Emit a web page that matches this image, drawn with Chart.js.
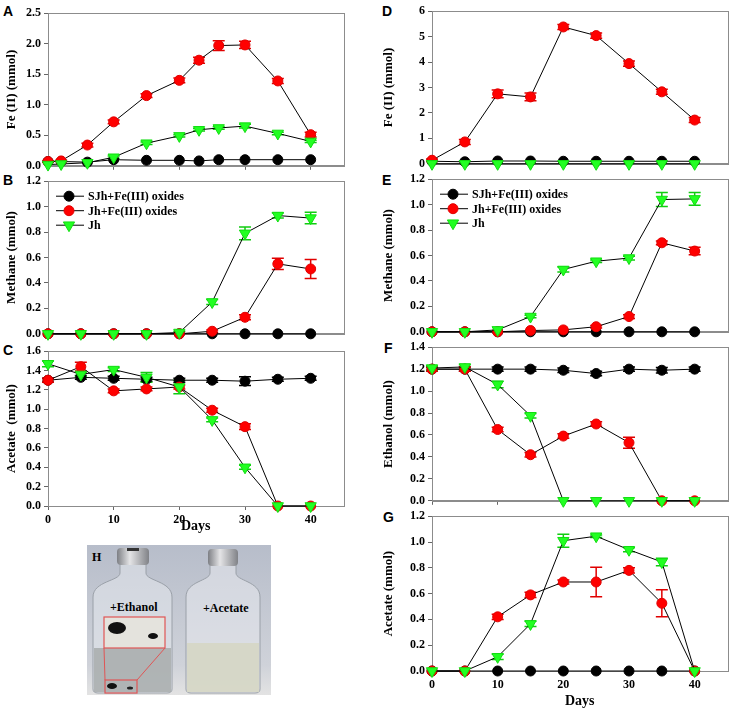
<!DOCTYPE html>
<html>
<head>
<meta charset="utf-8">
<script src="https://cdn.jsdelivr.net/npm/chart.js@4.4.1/dist/chart.umd.min.js"></script>
<style>
  body { margin: 0; background: #fff; width: 737px; height: 712px; position: relative; overflow: hidden; }
  .tag { position: absolute; font: bold 14px "Liberation Sans", Arial, sans-serif; color: #000; }
  #photo { position: absolute; left: 87px; top: 545px; }
</style>
</head>
<body>

<div class="tag" style="left:3px;top:3px">A</div>
<div class="tag" style="left:3px;top:172px">B</div>
<div class="tag" style="left:3px;top:342px">C</div>
<div class="tag" style="left:382px;top:3px">D</div>
<div class="tag" style="left:382px;top:172px">E</div>
<div class="tag" style="left:384px;top:340px">F</div>
<div class="tag" style="left:383px;top:509px">G</div>

<!-- H: photo of the two bottles -->
<svg id="photo" width="184" height="150" viewBox="0 0 184 150" xmlns="http://www.w3.org/2000/svg">
  <defs>
    <linearGradient id="bg" x1="0" y1="0" x2="0" y2="1">
      <stop offset="0" stop-color="#b7bdca"/>
      <stop offset="0.8" stop-color="#cfd2d9"/>
      <stop offset="1" stop-color="#e3e3e3"/>
    </linearGradient>
    <linearGradient id="cap" x1="0" y1="0" x2="1" y2="0">
      <stop offset="0" stop-color="#7d7f84"/>
      <stop offset="0.4" stop-color="#e4e4e6"/>
      <stop offset="1" stop-color="#808287"/>
    </linearGradient>
  </defs>
  <rect x="0" y="0" width="184" height="150" fill="url(#bg)"/>
  <!-- left bottle -->
  <path d="M33,28 L33,18 L59,18 L59,28 C59,36 85,36 85,52 L85,144 Q85,148 80,148 L11,148 Q6,148 6,144 L6,52 C6,36 33,36 33,28 Z" fill="rgba(228,231,236,0.55)" stroke="#9aa0a8"/>
  <rect x="7" y="103" width="77" height="44" fill="#a7acab" opacity="0.85"/>
  <rect x="30" y="3" width="32" height="17" rx="4" fill="url(#cap)"/>
  <rect x="40" y="3" width="12" height="3" fill="#333"/>
  <!-- right bottle -->
  <path d="M123,28 L123,18 L149,18 L149,28 C149,36 173,36 173,52 L173,144 Q173,148 168,148 L104,148 Q99,148 99,144 L99,52 C99,36 123,36 123,28 Z" fill="rgba(232,234,238,0.55)" stroke="#9aa0a8"/>
  <rect x="100" y="98" width="72" height="49" fill="#d5d6c4" opacity="0.9"/>
  <rect x="121" y="4" width="30" height="17" rx="4" fill="url(#cap)"/>
  <!-- inset -->
  <line x1="17" y1="103" x2="18" y2="135" stroke="#e05555" stroke-width="1"/>
  <line x1="78" y1="103" x2="50" y2="135" stroke="#e05555" stroke-width="1"/>
  <rect x="17" y="72" width="61" height="31" fill="#e4e3dd" stroke="#e05555" stroke-width="1.2"/>
  <ellipse cx="30" cy="83" rx="9" ry="6" fill="#111"/>
  <ellipse cx="66" cy="91" rx="5" ry="3" fill="#111"/>
  <rect x="18" y="135" width="32" height="13" fill="none" stroke="#e05555" stroke-width="1.2"/>
  <ellipse cx="25" cy="141" rx="5" ry="3" fill="#111"/>
  <ellipse cx="43" cy="143" rx="3" ry="1.5" fill="#222"/>
  <text x="5" y="16" font-family="Liberation Serif" font-weight="bold" font-size="12">H</text>
  <text x="23" y="66" font-family="Liberation Serif" font-weight="bold" font-size="12">+Ethanol</text>
  <text x="116" y="67" font-family="Liberation Serif" font-weight="bold" font-size="12">+Acetate</text>
</svg>

<script>
// sampling days
const daysA = [0, 2, 6, 10, 15, 20, 23, 26, 30, 35, 40];
const days = [0, 5, 10, 15, 20, 25, 30, 35, 40];
const dayTicks = [0, 10, 20, 30, 40];

// tick labels of the y axes
const ticksFeA = [0, 0.5, 1.0, 1.5, 2.0, 2.5];
const ticksFeD = [0, 1, 2, 3, 4, 5, 6];
const ticks12 = [0, 0.2, 0.4, 0.6, 0.8, 1.0, 1.2];
const ticks14 = [0, 0.2, 0.4, 0.6, 0.8, 1.0, 1.2, 1.4];
const ticks16 = [0, 0.2, 0.4, 0.6, 0.8, 1.0, 1.2, 1.4, 1.6];

const seriesNames = ['SJh+Fe(III) oxides', 'Jh+Fe(III) oxides', 'Jh'];

// A - Fe(II)
const feA_SJh = [0.07, 0.07, 0.06, 0.10, 0.09, 0.09, 0.08, 0.10, 0.10, 0.10, 0.10];
const feA_SJhErr = [0, 0, 0, 0, 0, 0, 0, 0, 0, 0, 0];
const feA_JhFe = [0.07, 0.08, 0.34, 0.72, 1.15, 1.40, 1.73, 1.97, 1.98, 1.39, 0.51];
const feA_JhFeErr = [0.01, 0.01, 0.03, 0.03, 0.03, 0.04, 0.05, 0.08, 0.06, 0.04, 0.04];
const feA_Jh = [0.02, 0.03, 0.05, 0.14, 0.37, 0.49, 0.59, 0.62, 0.65, 0.53, 0.40];
const feA_JhErr = [0, 0, 0, 0.02, 0.02, 0.02, 0.02, 0.02, 0.03, 0.02, 0.02];

// B - methane
const ch4B_SJh = [0, 0, 0, 0, 0, 0, 0, 0, 0];
const ch4B_SJhErr = [0, 0, 0, 0, 0, 0, 0, 0, 0];
const ch4B_JhFe = [0, 0, 0, 0, 0, 0.02, 0.13, 0.55, 0.51];
const ch4B_JhFeErr = [0, 0, 0, 0, 0, 0.01, 0.02, 0.045, 0.075];
const ch4B_Jh = [0, 0, 0, 0, 0.01, 0.25, 0.79, 0.93, 0.91];
const ch4B_JhErr = [0, 0, 0, 0, 0.01, 0.02, 0.05, 0.02, 0.045];

// C - acetate
const acC_SJh = [1.30, 1.33, 1.32, 1.31, 1.30, 1.30, 1.29, 1.31, 1.32];
const acC_SJhErr = [0.02, 0.02, 0.02, 0.02, 0.02, 0.02, 0.045, 0.02, 0.02];
const acC_JhFe = [1.30, 1.44, 1.19, 1.21, 1.23, 0.99, 0.82, 0, 0];
const acC_JhFeErr = [0.02, 0.045, 0.02, 0.02, 0.02, 0.02, 0.03, 0, 0];
const acC_Jh = [1.47, 1.36, 1.41, 1.33, 1.23, 0.89, 0.40, 0, 0];
const acC_JhErr = [0.03, 0.02, 0.02, 0.05, 0.07, 0.02, 0.02, 0, 0];

// D - Fe(II)
const feD_SJh = [0.10, 0.08, 0.11, 0.11, 0.10, 0.10, 0.10, 0.10, 0.10];
const feD_SJhErr = [0, 0, 0, 0, 0, 0, 0, 0, 0];
const feD_JhFe = [0.14, 0.86, 2.75, 2.63, 5.38, 5.04, 3.94, 2.83, 1.72];
const feD_JhFeErr = [0.05, 0.1, 0.15, 0.15, 0.1, 0.1, 0.1, 0.1, 0.1];
const feD_Jh = [0, 0, 0, 0, 0, 0, 0, 0, 0];
const feD_JhErr = [0, 0, 0, 0, 0, 0, 0, 0, 0];

// E - methane
const ch4E_SJh = [0, 0, 0, 0, 0, 0, 0, 0, 0];
const ch4E_SJhErr = [0, 0, 0, 0, 0, 0, 0, 0, 0];
const ch4E_JhFe = [0, 0, 0, 0.01, 0.015, 0.04, 0.12, 0.70, 0.635];
const ch4E_JhFeErr = [0, 0, 0, 0, 0, 0.01, 0.015, 0.015, 0.03];
const ch4E_Jh = [0, 0, 0.015, 0.12, 0.49, 0.555, 0.58, 1.04, 1.045];
const ch4E_JhErr = [0, 0, 0, 0.01, 0.02, 0.01, 0.015, 0.055, 0.05];

// F - ethanol
const etF_SJh = [1.20, 1.20, 1.20, 1.20, 1.19, 1.16, 1.20, 1.19, 1.20];
const etF_SJhErr = [0.02, 0.02, 0.02, 0.02, 0.02, 0.02, 0.02, 0.025, 0.02];
const etF_JhFe = [1.20, 1.20, 0.65, 0.42, 0.59, 0.70, 0.53, 0, 0];
const etF_JhFeErr = [0.02, 0.02, 0.02, 0.02, 0.02, 0.02, 0.05, 0, 0];
const etF_Jh = [1.21, 1.22, 1.06, 0.775, 0, 0, 0, 0, 0];
const etF_JhErr = [0.02, 0.02, 0.03, 0.02, 0, 0, 0, 0, 0];

// G - acetate
const acG_SJh = [0, 0, 0, 0, 0, 0, 0, 0, 0];
const acG_SJhErr = [0, 0, 0, 0, 0, 0, 0, 0, 0];
const acG_JhFe = [0, 0, 0.42, 0.59, 0.69, 0.69, 0.78, 0.525, 0];
const acG_JhFeErr = [0, 0, 0.02, 0.02, 0.015, 0.115, 0.02, 0.105, 0];
const acG_Jh = [0, 0, 0.11, 0.365, 1.01, 1.045, 0.94, 0.845, 0];
const acG_JhErr = [0, 0, 0.02, 0.02, 0.05, 0.01, 0.015, 0.03, 0];

// marker styles (green drawn on top, black at the bottom)
const looks = [
  { shape: 'circle', r: 5, rot: 0, fill: '#000000', edge: '#000000', err: '#000000', order: 2 },
  { shape: 'circle', r: 5, rot: 0, fill: '#ff0000', edge: '#e00000', err: '#e00000', order: 1 },
  { shape: 'triangle', r: 6.5, rot: 180, fill: '#22ff22', edge: '#11dd11', err: '#11cc11', order: 0 }
];

const serif = '"Liberation Serif", "Times New Roman", serif';

// gray box round the plot area
const frame = {
  id: 'frame',
  beforeDatasetsDraw(chart) {
    const a = chart.chartArea, ctx = chart.ctx;
    ctx.save();
    ctx.strokeStyle = '#8c8c8c';
    ctx.lineWidth = 1;
    ctx.strokeRect(Math.round(a.left) + 0.5, Math.round(a.top) + 0.5,
      Math.round(a.right - a.left), Math.round(a.bottom - a.top));
    ctx.restore();
  }
};

// error bars, drawn under the markers
const errorBars = {
  id: 'errorBars',
  beforeDatasetsDraw(chart) {
    const ctx = chart.ctx, ys = chart.scales.y;
    chart.data.datasets.forEach((ds, i) => {
      if (!ds.errors) return;
      const meta = chart.getDatasetMeta(i);
      ctx.save();
      ctx.strokeStyle = ds.errColor;
      ctx.lineWidth = 1.5;
      meta.data.forEach((pt, j) => {
        const e = ds.errors[j];
        if (!e) return;
        const v = ds.data[j].y;
        const y1 = ys.getPixelForValue(v + e), y2 = ys.getPixelForValue(v - e);
        ctx.beginPath();
        ctx.moveTo(pt.x, y1); ctx.lineTo(pt.x, y2);
        ctx.moveTo(pt.x - 6, y1); ctx.lineTo(pt.x + 6, y1);
        ctx.moveTo(pt.x - 6, y2); ctx.lineTo(pt.x + 6, y2);
        ctx.stroke();
      });
      ctx.restore();
    });
  }
};

// legend sitting inside the plot (panels B and E)
const innerLegend = {
  id: 'innerLegend',
  afterDatasetsDraw(chart, args, opts) {
    if (!opts.show) return;
    const ctx = chart.ctx, a = chart.chartArea;
    const items = chart.data.datasets.slice().sort((p, q) => q.order - p.order);
    items.forEach((ds, k) => {
      const y = a.top + 15 + k * 14.5;
      const x = a.left + 8;
      ctx.save();
      ctx.strokeStyle = '#000';
      ctx.lineWidth = 1;
      ctx.beginPath(); ctx.moveTo(x, y); ctx.lineTo(x + 28, y); ctx.stroke();
      ctx.fillStyle = ds.pointBackgroundColor;
      ctx.strokeStyle = ds.pointBorderColor;
      ctx.lineWidth = 1;
      Chart.helpers.drawPoint(ctx, { pointStyle: ds.pointStyle, radius: ds.pointRadius, rotation: ds.pointRotation, borderWidth: 1 }, x + 13, y);
      ctx.fillStyle = '#000';
      ctx.font = 'bold 12px ' + serif;
      ctx.textBaseline = 'middle';
      ctx.fillText(ds.label, x + 32, y + 1);
      ctx.restore();
    });
  }
};

function series(k, xs, vals, errs) {
  const s = looks[k];
  return {
    label: seriesNames[k],
    data: xs.map((d, i) => ({ x: d, y: vals[i] })),
    errors: errs,
    errColor: s.err,
    showLine: true,
    borderColor: '#000',
    borderWidth: 1,
    tension: 0,
    pointStyle: s.shape,
    pointRadius: s.r,
    pointRotation: s.rot,
    pointBackgroundColor: s.fill,
    pointBorderColor: s.edge,
    pointBorderWidth: 1,
    order: s.order,
    clip: false
  };
}

function panel(o) {
  const yW = o.col === 0 ? 48 : 55;
  const left = o.plot[0] - yW, top = o.plot[1] - 8;
  const w = o.plot[2] + 3 - left, h = o.plot[3] + o.xH - top;
  const cv = document.createElement('canvas');
  cv.width = w; cv.height = h;
  cv.style.cssText = `position:absolute;left:${left}px;top:${top}px;width:${w}px;height:${h}px`;
  document.body.appendChild(cv);

  new Chart(cv, {
    type: 'scatter',
    data: { datasets: o.sets },
    plugins: [frame, errorBars, innerLegend],
    options: {
      responsive: false,
      animation: false,
      layout: { padding: { top: 8, right: 3, left: 0, bottom: 0 } },
      plugins: {
        legend: { display: false },
        tooltip: { enabled: false },
        innerLegend: { show: !!o.legend }
      },
      scales: {
        x: {
          type: 'linear', min: 0, max: 45,
          afterBuildTicks: s => { s.ticks = dayTicks.map(v => ({ value: v })); },
          afterFit: s => { s.height = o.xH; },
          grid: { drawOnChartArea: false, tickLength: 4, color: '#666' },
          border: { color: '#8c8c8c' },
          ticks: { display: !!o.days, padding: 3, color: '#000', font: { family: serif, weight: 'bold', size: 12 } },
          title: { display: !!o.days, text: 'Days', color: '#000', padding: { top: 0, bottom: 0 }, font: { family: serif, weight: 'bold', size: 14 } }
        },
        y: {
          type: 'linear', min: 0, max: o.yTicks[o.yTicks.length - 1],
          afterBuildTicks: s => { s.ticks = o.yTicks.map(v => ({ value: v })); },
          afterFit: s => { s.width = yW; },
          grid: { drawOnChartArea: false, tickLength: 4, color: '#666' },
          border: { color: '#8c8c8c' },
          ticks: { padding: 3, color: '#000', font: { family: serif, weight: 'bold', size: 12 }, callback: v => v.toFixed(o.dec) },
          title: { display: true, text: o.yTitle, color: '#000', padding: { top: 4, bottom: 0 }, font: { family: serif, weight: 'bold', size: 13 } }
        }
      }
    }
  });
}

panel({ col: 0, plot: [48, 11, 348, 168], xH: 8, yTicks: ticksFeA, dec: 1, yTitle: 'Fe (II) (mmol)',
  sets: [series(0, daysA, feA_SJh, feA_SJhErr), series(1, daysA, feA_JhFe, feA_JhFeErr), series(2, daysA, feA_Jh, feA_JhErr)] });
panel({ col: 0, plot: [48, 179, 348, 336], xH: 8, yTicks: ticks12, dec: 1, yTitle: 'Methane (mmol)', legend: true,
  sets: [series(0, days, ch4B_SJh, ch4B_SJhErr), series(1, days, ch4B_JhFe, ch4B_JhFeErr), series(2, days, ch4B_Jh, ch4B_JhErr)] });
panel({ col: 0, plot: [48, 349, 348, 506], xH: 29, days: true, yTicks: ticks16, dec: 1, yTitle: 'Acetate  (mmol)',
  sets: [series(0, days, acC_SJh, acC_SJhErr), series(1, days, acC_JhFe, acC_JhFeErr), series(2, days, acC_Jh, acC_JhErr)] });

panel({ col: 1, plot: [432, 9, 732, 166], xH: 8, yTicks: ticksFeD, dec: 0, yTitle: 'Fe (II) (mmol)',
  sets: [series(0, days, feD_SJh, feD_SJhErr), series(1, days, feD_JhFe, feD_JhFeErr), series(2, days, feD_Jh, feD_JhErr)] });
panel({ col: 1, plot: [432, 177, 732, 334], xH: 8, yTicks: ticks12, dec: 1, yTitle: 'Methane (mmol)', legend: true,
  sets: [series(0, days, ch4E_SJh, ch4E_SJhErr), series(1, days, ch4E_JhFe, ch4E_JhFeErr), series(2, days, ch4E_Jh, ch4E_JhErr)] });
panel({ col: 1, plot: [432, 345, 732, 503], xH: 8, yTicks: ticks14, dec: 1, yTitle: 'Ethanol (mmol)',
  sets: [series(0, days, etF_SJh, etF_SJhErr), series(1, days, etF_JhFe, etF_JhFeErr), series(2, days, etF_Jh, etF_JhErr)] });
panel({ col: 1, plot: [432, 514, 732, 671], xH: 39, days: true, yTicks: ticks12, dec: 1, yTitle: 'Acetate (mmol)',
  sets: [series(0, days, acG_SJh, acG_SJhErr), series(1, days, acG_JhFe, acG_JhFeErr), series(2, days, acG_Jh, acG_JhErr)] });
</script>
</body>
</html>
